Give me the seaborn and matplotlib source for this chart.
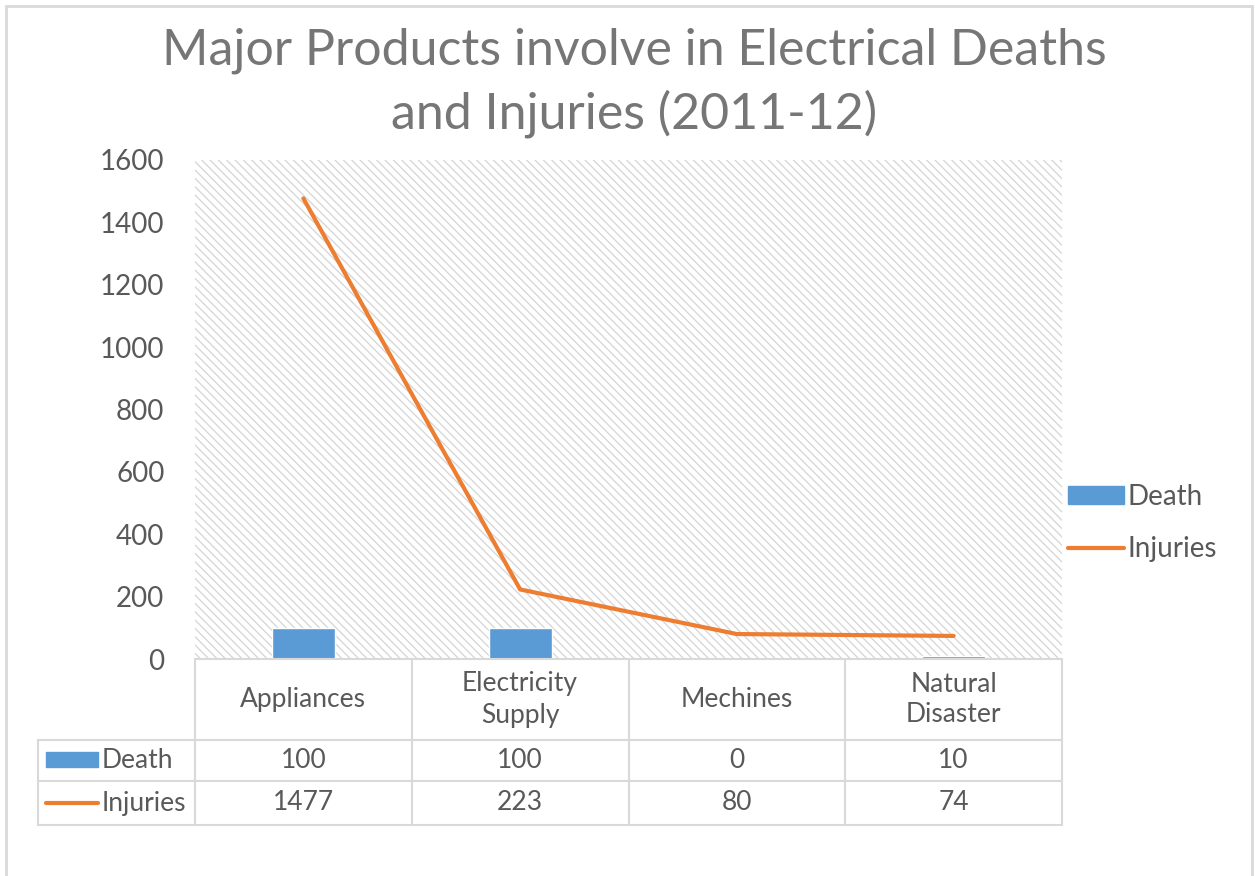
from matplotlib import pyplot as plt
from matplotlib.patches import Rectangle
from matplotlib.lines import Line2D
import pandas as pd
import seaborn as sns

sns.set_style('white')
plt.rcParams['font.family'] = ['Lato', 'DejaVu Sans']
plt.rcParams['hatch.linewidth'] = 0.9

categories = ['Appliances', 'Electricity Supply', 'Mechines', 'Natural Disaster']
header_labels = ['Appliances', 'Electricity\nSupply', 'Mechines', 'Natural\nDisaster']
death = [100, 100, 0, 10]
injuries = [1477, 223, 80, 74]
yticks = [0, 200, 400, 600, 800, 1000, 1200, 1400, 1600]

BLUE = '#5b9bd5'
ORANGE = '#ed7d31'
TXT = '#595959'
GRID = '#d9d9d9'
FS = 19

W, H = 1255, 876
df = pd.DataFrame({'category': categories, 'Death': death, 'Injuries': injuries})

fig = plt.figure(figsize=(W / 100, H / 100), dpi=100)


def fx(px):
    return px / W


def fy(py):
    return 1 - py / H


# plot area in pixels
left, right, top, bottom = 195, 1062, 160, 659
ax = fig.add_axes([fx(left), fy(bottom), fx(right - left), (bottom - top) / H])

# hatched background of the plot area
ax.add_patch(Rectangle((0, 0), 1, 1, transform=ax.transAxes, fill=False,
                       hatch='\\\\\\\\', edgecolor='#d4d4d4', lw=0, zorder=0))

sns.barplot(x='category', y='Death', data=df, color=BLUE, width=0.29,
            saturation=1, ax=ax, zorder=2)
sns.lineplot(x='category', y='Injuries', data=df, color=ORANGE, lw=3,
             ax=ax, zorder=3, solid_capstyle='round')

ax.set_xlim(-0.5, len(categories) - 0.5)
ax.set_ylim(0, 1600)
ax.set_yticks(yticks)
ax.set_yticklabels([str(v) for v in yticks])
ax.set_xticks([])
ax.set(xlabel='', ylabel='')
ax.tick_params(axis='y', length=0, pad=22, labelsize=FS + 1, labelcolor=TXT)
for s in ax.spines.values():
    s.set_visible(False)

handles = [Rectangle((0, 0), 1, 1, color=BLUE),
           Line2D([], [], color=ORANGE, lw=3, solid_capstyle='round')]
leg = ax.legend(handles, ['Death', 'Injuries'], loc='center left',
                bbox_to_anchor=(fx(1068), fy(523)),
                bbox_transform=fig.transFigure, frameon=False, fontsize=FS + 1,
                handlelength=2.0, handleheight=0.6, handletextpad=0.15,
                labelspacing=0.95, borderaxespad=0, borderpad=0)
for t in leg.get_texts():
    t.set_color(TXT)

fig.suptitle('Major Products involve in Electrical Deaths\nand Injuries (2011-12)',
             x=fx(634), y=fy(83), va='center', fontsize=36, color='#767676',
             linespacing=1.38)

# data table under the plot
col_w = (right - left) / len(categories)
cols = [left + i * col_w for i in range(len(categories) + 1)]
rows = [659, 740, 781, 825]
tab_left = 38


def hline(y, x0, x1):
    fig.add_artist(Line2D([fx(x0), fx(x1)], [fy(y), fy(y)], color=GRID, lw=1.5))


def vline(x, y0, y1):
    fig.add_artist(Line2D([fx(x), fx(x)], [fy(y0), fy(y1)], color=GRID, lw=1.5))


hline(rows[0], left, right)
for y in rows[1:]:
    hline(y, tab_left, right)
for x in cols:
    vline(x, rows[0], rows[-1])
vline(tab_left, rows[1], rows[-1])

for i in range(len(categories)):
    cx = fx((cols[i] + cols[i + 1]) / 2)
    fig.text(cx, fy((rows[0] + rows[1]) / 2), header_labels[i], ha='center',
             va='center', fontsize=FS, color=TXT, linespacing=1.3)
    fig.text(cx, fy((rows[1] + rows[2]) / 2), str(death[i]), ha='center',
             va='center', fontsize=FS, color=TXT)
    fig.text(cx, fy((rows[2] + rows[3]) / 2), str(injuries[i]), ha='center',
             va='center', fontsize=FS, color=TXT)

# legend keys inside the table
fig.add_artist(Rectangle((fx(46), fy(767)), fx(52), 15 / H, color=BLUE))
fig.add_artist(Line2D([fx(46), fx(98)], [fy(803), fy(803)], color=ORANGE, lw=3,
                      solid_capstyle='round'))
fig.text(fx(102), fy(760), 'Death', ha='left', va='center', fontsize=FS, color=TXT)
fig.text(fx(102), fy(803), 'Injuries', ha='left', va='center', fontsize=FS, color=TXT)

# chart border
fig.add_artist(Rectangle((fx(6), fy(900)), fx(1246), 894 / H, fill=False,
                         edgecolor=GRID, lw=2))

plt.savefig('out.png', dpi=100)
